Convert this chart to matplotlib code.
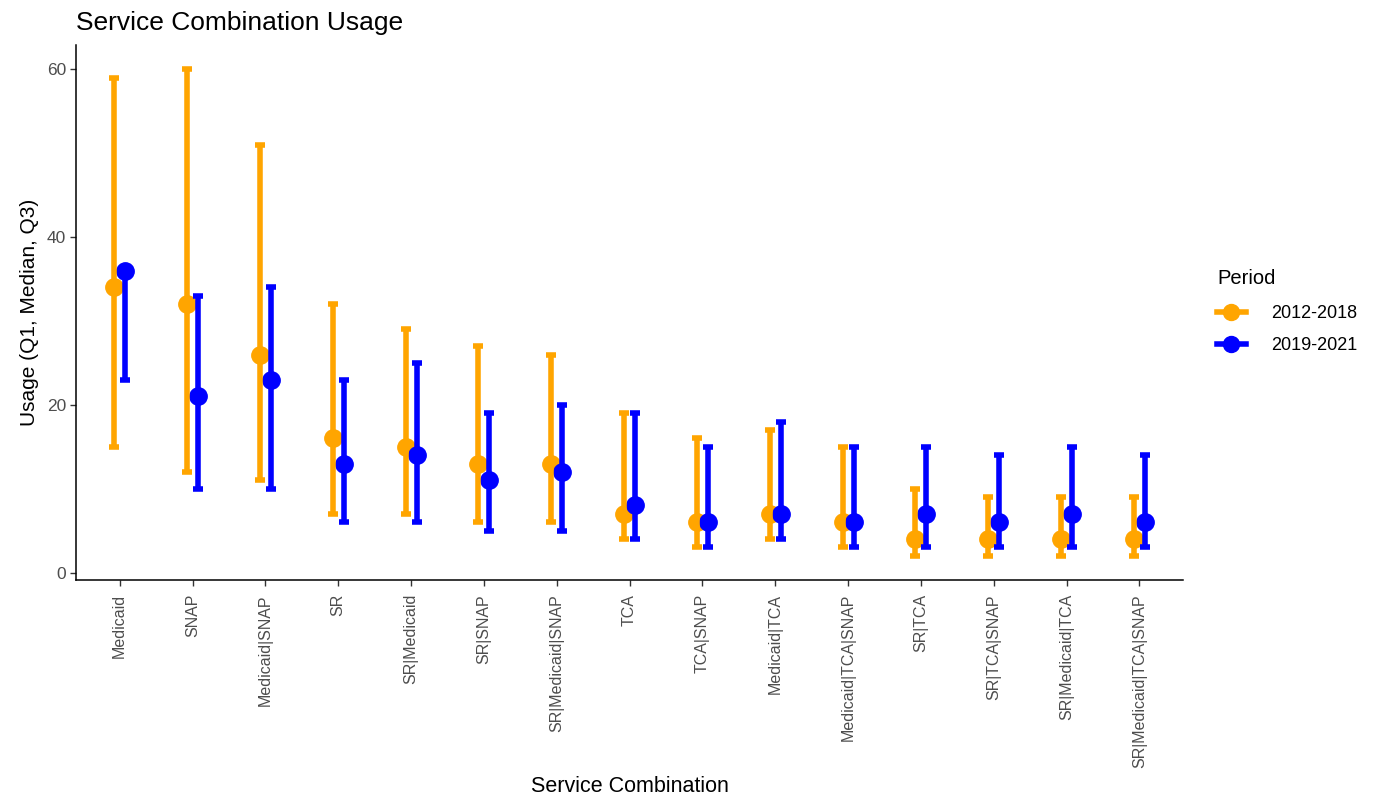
import matplotlib
matplotlib.use("Agg")
import matplotlib.pyplot as plt
from matplotlib.lines import Line2D
import numpy as np

plt.rcParams['font.family'] = ['Liberation Sans', 'DejaVu Sans']

categories = ["Medicaid", "SNAP", "Medicaid|SNAP", "SR", "SR|Medicaid", "SR|SNAP",
              "SR|Medicaid|SNAP", "TCA", "TCA|SNAP", "Medicaid|TCA", "Medicaid|TCA|SNAP",
              "SR|TCA", "SR|TCA|SNAP", "SR|Medicaid|TCA", "SR|Medicaid|TCA|SNAP"]
periods = ["2012-2018", "2019-2021"]

# Quartiles per service combination, period 2012-2018
q1_early = [15, 12, 11, 7, 7, 6, 6, 4, 3, 4, 3, 2, 2, 2, 2]
med_early = [34, 32, 26, 16, 15, 13, 13, 7, 6, 7, 6, 4, 4, 4, 4]
q3_early = [59, 60, 51, 32, 29, 27, 26, 19, 16, 17, 15, 10, 9, 9, 9]

# Quartiles per service combination, period 2019-2021
q1_late = [23, 10, 10, 6, 6, 5, 5, 4, 3, 4, 3, 3, 3, 3, 3]
med_late = [36, 21, 23, 13, 14, 11, 12, 8, 6, 7, 6, 7, 6, 7, 6]
q3_late = [36, 33, 34, 23, 25, 19, 20, 19, 15, 18, 15, 15, 14, 15, 14]

colors = {"2012-2018": "#FFA500", "2019-2021": "#0000FF"}

fig = plt.figure(figsize=(13.85, 7.98), dpi=100)
ax = fig.add_axes([0.0549, 0.273, 0.7993, 0.6706])

x = np.arange(1, len(categories) + 1)
series = {
    "2012-2018": (q1_early, med_early, q3_early, -0.075),
    "2019-2021": (q1_late, med_late, q3_late, 0.075),
}

# medians first, then the Q1-Q3 bars on top
for p in periods:
    q1, med, q3, off = series[p]
    ax.plot(x + off, med, 'o', color=colors[p], markersize=12.5, zorder=2, linestyle='none')
for p in periods:
    q1, med, q3, off = series[p]
    q1 = np.array(q1); med = np.array(med); q3 = np.array(q3)
    ax.errorbar(x + off, med, yerr=[med - q1, q3 - med], fmt='none', ecolor=colors[p],
                elinewidth=4.0, capsize=3.8, capthick=4.0, zorder=3)

ax.set_xlim(0.4, len(categories) + 0.6)
ax.set_ylim(-0.9, 62.9)
ax.set_yticks([0, 20, 40, 60])
ax.set_xticks(x)
ax.set_xticklabels(categories, rotation=90, fontsize=11.5, color='#4D4D4D')
ax.tick_params(axis='y', labelsize=12.5, labelcolor='#4D4D4D', length=4, width=1, color='#333333', pad=3)
ax.tick_params(axis='x', length=4, width=1, color='#333333', pad=6)

for s in ['top', 'right']:
    ax.spines[s].set_visible(False)
for s in ['left', 'bottom']:
    ax.spines[s].set_linewidth(1.1)
    ax.spines[s].set_color('black')

ax.set_xlabel("Service Combination", fontsize=15.5, va='center')
ax.xaxis.set_label_coords(0.5, -0.385)
ax.set_ylabel("Usage (Q1, Median, Q3)", fontsize=15, labelpad=6)
ax.set_title("Service Combination Usage", loc='left', fontsize=19, pad=11)

handles = [Line2D([0], [0], color=colors[p], lw=4.0, marker='o', markersize=11.5) for p in periods]
leg = fig.legend(handles, periods, title="Period", loc='upper left',
                 bbox_to_anchor=(0.867, 0.683), frameon=False, fontsize=13,
                 title_fontsize=14.5, handlelength=1.6, handletextpad=1.4,
                 labelspacing=0.85)
leg._legend_box.align = "left"
leg._legend_box.sep = 12

fig.savefig("out.png", dpi=100)
